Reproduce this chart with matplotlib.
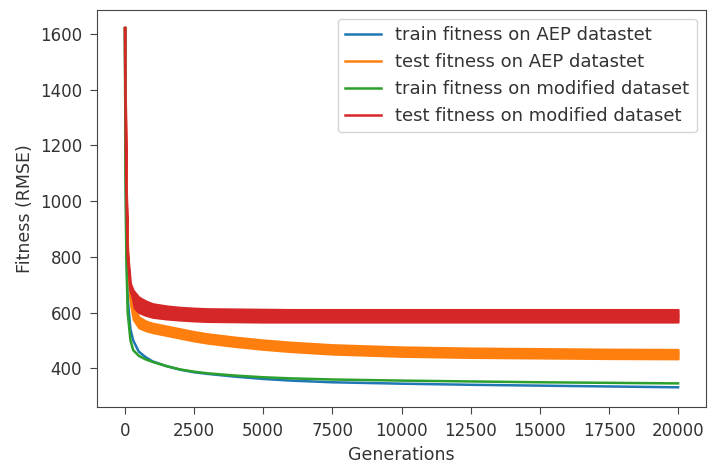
import matplotlib
matplotlib.use("Agg")
import matplotlib.pyplot as plt
import numpy as np

gens = [0, 20, 50, 100, 200, 300, 500, 750, 1000, 1500, 2000, 2500, 3000,
        4000, 5000, 6000, 7500, 10000, 12500, 15000, 17500, 20000]

# train curves (smooth)
train_aep = [1620, 1200, 850, 650, 540, 500, 460, 440, 425, 408, 395, 386,
             380, 370, 362, 356, 350, 345, 341, 338, 335, 332]
train_mod = [1620, 1100, 800, 600, 500, 465, 445, 432, 423, 408, 396, 388,
             382, 374, 368, 364, 360, 356, 353, 350, 348, 346]

# test curves are noisy: lower / upper edge of the band
test_aep_lo = [1615, 1290, 990, 790, 630, 575, 545, 535, 528, 518, 508, 498,
               490, 478, 468, 460, 451, 443, 439, 437, 435, 434]
test_aep_hi = [1625, 1310, 1010, 810, 670, 625, 585, 570, 562, 552, 542, 532,
               524, 512, 502, 494, 485, 477, 473, 471, 469, 468]
test_mod_lo = [1615, 1340, 1040, 790, 655, 620, 600, 590, 583, 577, 573, 570,
               568, 567, 566, 566, 566, 566, 566, 566, 566, 566]
test_mod_hi = [1625, 1360, 1060, 815, 705, 680, 656, 642, 632, 624, 619, 616,
               614, 613, 612, 611, 611, 611, 611, 611, 611, 611]

labels = ["train fitness on AEP datastet", "test fitness on AEP datastet",
          "train fitness on modified dataset", "test fitness on modified dataset"]

fig = plt.figure(figsize=(7.1, 4.66), dpi=100)
ax = fig.add_axes([0.137, 0.127, 0.857, 0.852])

mid_aep = (np.array(test_aep_lo) + np.array(test_aep_hi)) / 2
mid_mod = (np.array(test_mod_lo) + np.array(test_mod_hi)) / 2

ax.plot(gens, train_aep, color="tab:blue", lw=1.8, label=labels[0])
ax.fill_between(gens, test_aep_lo, test_aep_hi, color="tab:orange", lw=1.5,
                edgecolor="tab:orange")
ax.plot(gens, mid_aep, color="tab:orange", lw=1.8, label=labels[1])
ax.plot(gens, train_mod, color="tab:green", lw=1.8, label=labels[2])
ax.fill_between(gens, test_mod_lo, test_mod_hi, color="tab:red", lw=1.5,
                edgecolor="tab:red")
ax.plot(gens, mid_mod, color="tab:red", lw=1.8, label=labels[3])

ax.set_xlim(-1000, 21000)
ax.set_ylim(262, 1686)
ax.set_xticks(np.arange(0, 20001, 2500))
ax.set_yticks(np.arange(400, 1601, 200))
ax.tick_params(labelsize=12, length=5, pad=6, color="#444444", labelcolor="#333333")
for s in ax.spines.values():
    s.set_color("#444444")
ax.set_xlabel("Generations", fontsize=12.5, color="#333333")
ax.set_ylabel("Fitness (RMSE)", fontsize=12.5, color="#333333")
leg = ax.legend(loc="upper right", fontsize=13)
for t in leg.get_texts():
    t.set_color("#333333")

fig.savefig("out.png", dpi=100)
